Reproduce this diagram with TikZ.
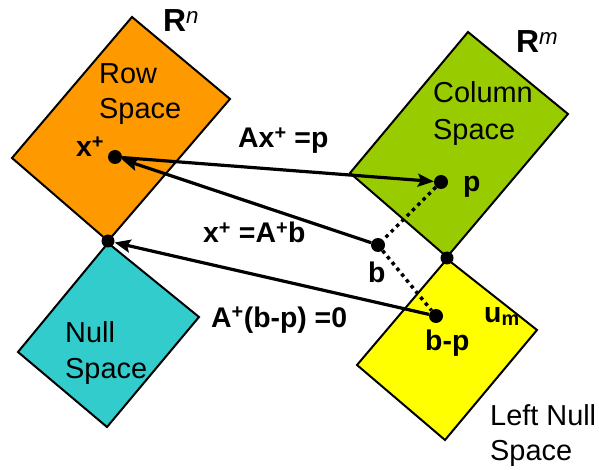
\documentclass[tikz,border=0pt]{standalone}
\usepackage{fontspec}
\setmainfont{Liberation Sans}
\usetikzlibrary{arrows.meta}
\definecolor{orng}{RGB}{255,153,0}
\definecolor{grn}{RGB}{153,204,0}
\definecolor{cyn}{RGB}{51,204,204}
\definecolor{yel}{RGB}{255,255,0}
\tikzset{
  space/.style={draw=black,line width=2bp,line join=miter},
  dot/.style={circle,fill=black,inner sep=0pt,minimum size=14bp},
  jdot/.style={circle,fill=black,inner sep=0pt,minimum size=13bp},
  arr/.style={line width=3.2bp,-{Stealth[length=16bp,width=13bp,inset=3bp]}},
  dotl/.style={line width=3.5bp,dash pattern=on 3.5bp off 4bp},
  lbl/.style={anchor=base west,inner sep=0pt,font=\fontsize{29}{35}\selectfont},
  blbl/.style={anchor=base west,inner sep=0pt,font=\fontsize{28.5}{32}\selectfont\bfseries},
  rlbl/.style={anchor=base west,inner sep=0pt,font=\fontsize{32}{35}\selectfont\bfseries},
}
\begin{document}
\begin{tikzpicture}[x=1bp,y=-1bp]
\useasboundingbox (0,0) rectangle (599,470);
% spaces
\filldraw[space,fill=orng] (132,17) -- (230,99) -- (108,241) -- (12,158) -- cycle;
\filldraw[space,fill=cyn] (108,243) -- (199,317) -- (107,427) -- (18,352) -- cycle;
\filldraw[space,fill=grn] (468,32) -- (568,114) -- (447,257) -- (350,173) -- cycle;
\filldraw[space,fill=yel] (447,259) -- (537,330) -- (445,440) -- (357,365) -- cycle;
% labels in spaces
\node[lbl] (rowa) at (99,84) {Row};
\node[lbl] (rowb) at (99,119) {Space};
\node[lbl] (cola) at (433,103) {Column};
\node[lbl] (colb) at (433,140) {Space};
\node[lbl] (nula) at (65,342) {Null};
\node[lbl] (nulb) at (65,378) {Space};
\node[lbl] (lnula) at (490,425) {Left Null};
\node[lbl] (lnulb) at (490,460) {Space};
\node[rlbl] (rn) at (163,32) {R\textsuperscript{\normalfont\itshape n}};
\node[rlbl] (rm) at (516,53) {R\textsuperscript{\normalfont\itshape m}};
% points
\node[dot] (xp) at (115,157) {};
\node[dot] (p) at (441,182) {};
\node[dot] (b) at (378,245) {};
\node[dot] (bp) at (436,316) {};
\node[jdot] (j1) at (108,241) {};
\node[jdot] (j2) at (447,258) {};
% dotted lines
\draw[dotl] (p) -- (b);
\draw[dotl] (b) -- (bp);
% arrows
\draw[arr] (xp) -- (p);
\draw[arr] (b) -- (xp);
\draw[arr] (bp) -- (j1);
% point labels
\node[blbl] (lxp) at (76,157) {x\textsuperscript{+}};
\node[blbl] (lp) at (463,192) {p};
\node[blbl] (lb) at (368,283) {b};
\node[blbl] (lbp) at (425,350) {b-p};
\node[blbl] (lum) at (484,322) {u\textsubscript{m}};
\node[blbl] (eq1) at (238,148) {Ax\textsuperscript{+} =p};
\node[blbl] (eq2) at (203,243) {x\textsuperscript{+} =A\textsuperscript{+}b};
\node[blbl] (eq3) at (211,327) {A\textsuperscript{+}(b-p) =0};
\end{tikzpicture}
\end{document}
